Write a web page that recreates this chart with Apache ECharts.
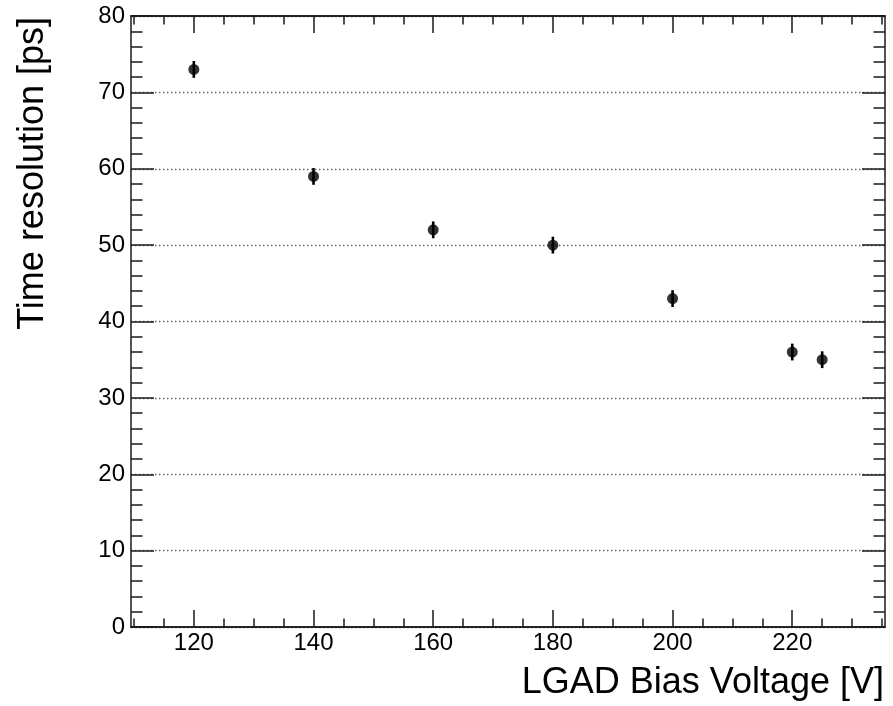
<!DOCTYPE html>
<html>
<head>
<meta charset="utf-8">
<script src="https://cdn.jsdelivr.net/npm/echarts@6/dist/echarts.min.js"></script>
<style>
  html, body { margin: 0; padding: 0; background: #fff; }
  #chart { width: 893px; height: 706px; }
</style>
</head>
<body>
<div id="chart"></div>
<script>
"use strict";
// values
const voltages = [120, 140, 160, 180, 200, 220, 225];
const resolutions = [73, 59, 52, 50, 43, 36, 35];
const errors = [1.1, 1.1, 1.1, 1.1, 1.1, 1.1, 1.1];
const xMajorTicks = [120, 140, 160, 180, 200, 220];
const xMinorTicks = [110, 115, 125, 130, 135, 145, 150, 155, 165, 170, 175,
    185, 190, 195, 205, 210, 215, 225, 230, 235];

const FONT = '"Liberation Sans", Arial, Helvetica, sans-serif';
const INK = '#1a1a1a';
const X_MIN = 109.5, X_MAX = 235.5;

const points = voltages.map((v, i) => [v, resolutions[i], errors[i]]);

const chart = echarts.init(document.getElementById('chart'));

function xAxisDef(position, ticks, len, labels) {
    return {
        type: 'value',
        position: position,
        min: X_MIN,
        max: X_MAX,
        axisLine: { show: true, lineStyle: { color: INK, width: 1.5 } },
        axisTick: {
            show: true, inside: true, length: len, customValues: ticks,
            lineStyle: { color: INK, width: 1.5 }
        },
        axisLabel: labels ? {
            show: true, customValues: ticks, margin: 4,
            color: '#000', fontSize: 24, fontFamily: FONT
        } : { show: false },
        splitLine: { show: false }
    };
}

function yAxisDef(position, labels) {
    return {
        type: 'value',
        position: position,
        min: 0,
        max: 80,
        interval: 10,
        axisLine: { show: true, lineStyle: { color: INK, width: 1.5 } },
        axisTick: { show: true, inside: true, length: 23, lineStyle: { color: INK, width: 1.5 } },
        minorTick: { show: true, splitNumber: 5, length: 11.5, lineStyle: { color: INK, width: 1.5 } },
        axisLabel: labels ? {
            show: true, margin: 6, color: '#000', fontSize: 24, fontFamily: FONT
        } : { show: false },
        splitLine: labels ? {
            show: true,
            lineStyle: { color: '#666', width: 1.3, type: [1.5, 2.5] }
        } : { show: false }
    };
}

const option = {
    animation: false,
    backgroundColor: '#fff',
    grid: { left: 131, right: 8, top: 16, bottom: 79, containLabel: false },
    xAxis: [
        xAxisDef('bottom', xMajorTicks, 17, true),
        xAxisDef('bottom', xMinorTicks, 8.5, false),
        xAxisDef('top', xMajorTicks, 17, false),
        xAxisDef('top', xMinorTicks, 8.5, false)
    ],
    yAxis: [
        yAxisDef('left', true),
        yAxisDef('right', false)
    ],
    graphic: [
        {
            type: 'text',
            x: 33, y: 17,
            rotation: Math.PI / 2,
            style: {
                text: 'Time resolution [ps]',
                fill: '#000',
                font: '36px ' + FONT,
                align: 'right',
                verticalAlign: 'middle'
            }
        },
        {
            type: 'text',
            x: 884, y: 683,
            style: {
                text: 'LGAD Bias Voltage [V]',
                fill: '#000',
                font: '36px ' + FONT,
                align: 'right',
                verticalAlign: 'middle'
            }
        }
    ],
    series: [
        {
            type: 'custom',
            xAxisIndex: 0,
            yAxisIndex: 0,
            data: points,
            z: 3,
            renderItem: function (params, api) {
                const x = api.value(0), y = api.value(1), e = api.value(2);
                const lo = api.coord([x, y - e]);
                const hi = api.coord([x, y + e]);
                return {
                    type: 'line',
                    shape: { x1: lo[0], y1: lo[1], x2: hi[0], y2: hi[1] },
                    style: { stroke: '#000', lineWidth: 2.6 }
                };
            }
        },
        {
            type: 'scatter',
            xAxisIndex: 0,
            yAxisIndex: 0,
            data: points,
            symbol: 'circle',
            symbolSize: 11,
            itemStyle: { color: '#000' },
            z: 4
        }
    ]
};
chart.setOption(option);
</script>
</body>
</html>
